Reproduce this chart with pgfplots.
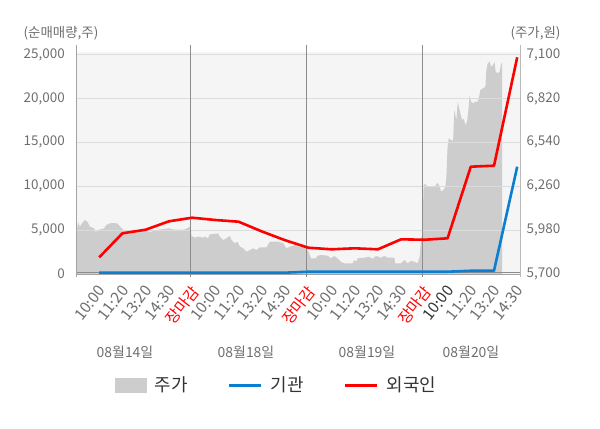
\documentclass[border=0pt]{standalone}
\usepackage{fontspec}
\setmainfont{Noto Sans CJK KR}
\usepackage{pgfplots}
\pgfplotsset{compat=1.18}
\definecolor{bgc}{HTML}{F5F5F5}
\definecolor{areac}{HTML}{CDCDCD}
\definecolor{gridc}{HTML}{DCDCDC}
\definecolor{axc}{HTML}{8C8C8C}
\definecolor{txt}{HTML}{6E6E6E}
\definecolor{blu}{HTML}{0A7FD1}
\definecolor{redc}{HTML}{FF0000}
\definecolor{legt}{HTML}{333333}
\begin{document}
\begin{tikzpicture}[x=1bp,y=1bp]
\path[use as bounding box] (0,0) rectangle (600,428);
% price axis (right) with area
\begin{axis}[
  at={(76bp,154bp)}, anchor=south west, scale only axis,
  width=444bp, height=222.3bp,
  xmin=0, xmax=19.12, ymin=5700, ymax=7117.9,
  axis background/.style={fill=bgc},
  axis line style={draw=none},
  xtick=\empty,
  ytick={5700,5980,6260,6540,6820,7100},
  yticklabel pos=right,
  major tick length=0pt,
  y tick label style={font=\fontsize{13.5}{14}\selectfont, text=txt, anchor=west, inner sep=0pt, xshift=6.5bp},
  /pgf/number format/assume math mode=true,
  /pgf/number format/1000 sep={,},
  scaled y ticks=false,
]
\addplot[fill=areac, draw=none] coordinates {
(0.00,5944) (0.06,6002) (0.09,6030) (0.17,6002) (0.26,6023) (0.375,6044) (0.49,6034) (0.60,6002) (0.78,5991) (0.85,5966) (0.95,5981) (1.21,5991) (1.31,6013) (1.50,6025) (1.78,6023) (1.90,6002) (2.04,5981) (2.36,5974) (2.79,5976) (3.22,5970) (3.44,5981) (4.01,5991) (4.22,5983) (4.66,5983) (4.87,5998) (4.94,6006)
(4.97,5944) (5.04,5938) (5.12,5932) (5.26,5938) (5.47,5932) (5.55,5938) (5.69,5928) (5.76,5953) (6.12,5959) (6.19,5938) (6.34,5917) (6.48,5928) (6.63,5944) (6.69,5917) (6.84,5896) (6.95,5906) (7.06,5874) (7.20,5864) (7.34,5842) (7.49,5853) (7.63,5864) (7.77,5853) (7.92,5870) (8.20,5870) (8.35,5906) (8.71,5906) (8.92,5896) (9.06,5864) (9.21,5874) (9.43,5885) (9.57,5874) (9.78,5880) (9.93,5864)
(9.97,5853) (10.04,5832) (10.12,5800) (10.33,5800) (10.40,5817) (10.55,5821) (10.83,5817) (10.98,5800) (11.12,5815) (11.26,5800) (11.41,5778) (11.55,5768) (11.91,5768) (11.98,5789) (12.06,5778) (12.13,5800) (12.41,5804) (12.63,5810) (12.77,5796) (12.92,5815) (13.13,5804) (13.28,5815) (13.42,5804) (13.71,5804) (13.74,5768) (14.00,5768) (14.14,5789) (14.28,5768) (14.43,5783) (14.57,5778) (14.71,5768) (14.80,5810) (14.86,5928) (14.91,5949)
(14.97,6268) (15.04,6274) (15.12,6261) (15.26,6257) (15.40,6252) (15.47,6261) (15.57,6282) (15.66,6257) (15.72,6225) (15.83,6236) (15.91,6257) (15.95,6321) (16.00,6512) (16.05,6565) (16.15,6555) (16.24,6550) (16.29,6746) (16.38,6682) (16.44,6799) (16.50,6757) (16.55,6725) (16.63,6682) (16.70,6690) (16.77,6650) (16.84,6671) (16.91,6767) (16.95,6842) (17.01,6799) (17.10,6789) (17.20,6799) (17.30,6799) (17.36,6831) (17.41,6874) (17.53,6884) (17.63,6895) (17.67,7001) (17.73,7044) (17.82,7054) (17.87,7022) (17.96,7033) (18.02,7054) (18.07,6990) (18.16,6980) (18.24,6990) (18.31,7044) (18.35,7044)
} \closedcycle;
\end{axis}
% net-buying axis (left) with grid and lines
\begin{axis}[
  at={(76bp,154bp)}, anchor=south west, scale only axis,
  width=444bp, height=222.3bp,
  xmin=0, xmax=19.12, ymin=0, ymax=25319,
  axis line style={draw=none},
  clip=false,
  ytick={0,5000,10000,15000,20000,25000},
  ymajorgrids, grid style={gridc, line width=1bp},
  major tick length=0pt,
  y tick label style={font=\fontsize{13.5}{14}\selectfont, text=txt, anchor=east, inner sep=0pt, xshift=-11bp},
  /pgf/number format/assume math mode=true,
  /pgf/number format/1000 sep={,},
  scaled y ticks=false,
  xtick={1,...,19},
  xticklabels={10:00,11:20,13:20,14:30,\textcolor{redc}{장마감},10:00,11:20,13:20,14:30,\textcolor{redc}{장마감},10:00,11:20,13:20,14:30,\textcolor{redc}{장마감},\textcolor{legt}{10:00},11:20,13:20,14:30},
  x tick label style={xshift=-2bp, yshift=-10bp, font=\fontsize{15.5}{15.5}\selectfont, text=txt, rotate=52, anchor=north east, inner sep=0pt},
  legend style={at={(axis description cs:0.0878,-0.4993)}, anchor=west, draw=none, fill=none,
    font=\fontsize{18}{18}\selectfont, text=legt, legend columns=3, inner sep=0pt,
    /tikz/every odd column/.append style={column sep=6bp},
    /tikz/every even column/.append style={column sep=38bp}},
  legend cell align=left,
]
\addlegendimage{legend image code/.code={\fill[areac] (0bp,-7bp) rectangle (31bp,7bp);}}
\addlegendentry{주가}
% zero reference line and frame
\draw[axc, line width=1bp] (axis cs:0,150) -- (axis cs:19.12,150);
\draw[axc!80, line width=1bp] (axis cs:0,-30) -- (axis cs:19.12,-30);
\draw[axc!80, line width=1bp] (axis cs:0,-350) -- (axis cs:0,26083);
\draw[axc!60, line width=1bp] (axis cs:19.12,-350) -- (axis cs:19.12,26083);
\draw[axc, line width=1bp] (axis cs:4.93,-350) -- (axis cs:4.93,26083);
\draw[axc, line width=1bp] (axis cs:9.93,-350) -- (axis cs:9.93,26083);
\draw[axc, line width=1bp] (axis cs:14.93,-350) -- (axis cs:14.93,26083);
\addplot[blu, line width=2.6bp, line join=round,
  legend image code/.code={\draw[blu, line width=3bp] (0bp,0bp) -- (32bp,0bp);}] coordinates {
(1,150) (2,150) (3,150) (4,150) (5,150) (6,150) (7,150) (8,150) (9,150) (10,260) (11,260) (12,260) (13,260) (14,260) (15,260) (16,260) (17,370) (18,370) (19,12222)
};
\addlegendentry{기관\hspace{22bp}}
\addplot[redc, line width=2.6bp, line join=round,
  legend image code/.code={\draw[redc, line width=3bp] (0bp,0bp) -- (32bp,0bp);}] coordinates {
(1,1902) (2,4634) (3,5046) (4,6000) (5,6413) (6,6150) (7,5957) (8,4850) (9,3850) (10,2996) (11,2813) (12,2927) (13,2813) (14,3952) (15,3900) (16,4066) (17,12222) (18,12335) (19,24682)
};
\addlegendentry{외국인}
\end{axis}
\node[font=\fontsize{13.5}{14}\selectfont, text=txt] at (61,395) {(순매매량,주)};
\node[font=\fontsize{13.5}{14}\selectfont, text=txt] at (535.5,395) {(주가,원)};
\node[font=\fontsize{14}{14}\selectfont, text=txt] at (125,76) {08월14일};
\node[font=\fontsize{14}{14}\selectfont, text=txt] at (246,76) {08월18일};
\node[font=\fontsize{14}{14}\selectfont, text=txt] at (367,76) {08월19일};
\node[font=\fontsize{14}{14}\selectfont, text=txt] at (471,76) {08월20일};
\end{tikzpicture}
\end{document}
